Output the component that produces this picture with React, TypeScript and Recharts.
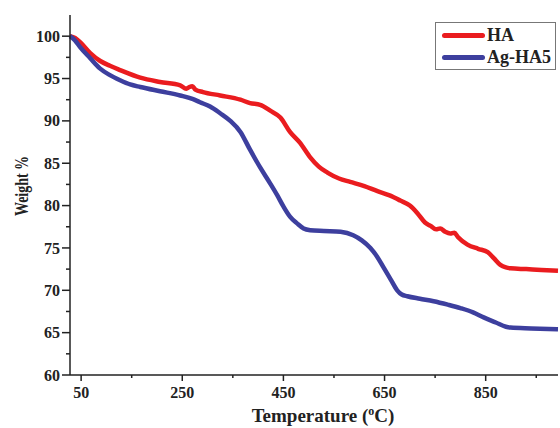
import React from "react";
import { LineChart, Line, XAxis, YAxis } from "recharts";

// TGA curves, temperature in °C, weight in %
const haTemp = [
    28, 38, 48, 68, 87, 107, 127, 167, 206, 246, 258, 264, 270, 276, 291, 325,
    365, 384, 404, 424, 444, 463, 483, 503, 520, 537, 560, 582, 610, 636, 660,
    681, 700, 715, 730, 741, 752, 760, 770, 780, 788, 795, 814, 835, 854, 866,
    879, 890, 899, 930, 960, 993,
];
const haWeight = [
    100, 99.8, 99.3, 98.0, 97.1, 96.5, 96.0, 95.1, 94.6, 94.2, 93.8, 94.0, 94.1,
    93.7, 93.4, 93.0, 92.5, 92.1, 91.9, 91.2, 90.4, 88.7, 87.4, 85.7, 84.6, 83.9,
    83.2, 82.8, 82.3, 81.7, 81.2, 80.6, 80.0, 79.1, 78.0, 77.6, 77.2, 77.3, 76.9,
    76.7, 76.8, 76.3, 75.4, 74.9, 74.5, 73.8, 73.0, 72.7, 72.6, 72.5, 72.4, 72.3,
];

const agTemp = [
    28, 38, 48, 68, 87, 107, 127, 147, 167, 206, 246, 270, 285, 305, 325, 345,
    365, 384, 404, 424, 438, 450, 463, 477, 490, 503, 530, 563, 588, 605, 622,
    635, 648, 662, 675, 684, 695, 720, 747, 775, 800, 825, 846, 870, 890, 899,
    940, 993,
];
const agWeight = [
    100, 99.5, 98.7, 97.4, 96.2, 95.4, 94.8, 94.3, 94.0, 93.5, 93.0, 92.6, 92.2,
    91.7, 90.9, 90.0, 88.7, 86.6, 84.5, 82.6, 81.2, 79.9, 78.7, 77.9, 77.3, 77.1,
    77.0, 76.9, 76.5, 75.9, 75.0, 74.0, 72.7, 71.3, 70.0, 69.5, 69.3, 69.0, 68.7,
    68.3, 67.9, 67.4, 66.8, 66.2, 65.7, 65.6, 65.5, 65.4,
];

const xTicks = [50, 150, 250, 350, 450, 550, 650, 750, 850, 950];
const xLabels = [50, 250, 450, 650, 850];
const yTicks = [
    60, 62.5, 65, 67.5, 70, 72.5, 75, 77.5, 80, 82.5, 85, 87.5, 90, 92.5, 95,
    97.5, 100,
];

const haData = haTemp.map((t, i) => ({ t, w: haWeight[i] }));
const agData = agTemp.map((t, i) => ({ t, w: agWeight[i] }));

const FONT = '"Liberation Serif", "Times New Roman", serif';
const AXIS = "#222";
const RED = "#ea1c1f";
const BLUE = "#3d3f9e";

const series = [
    { name: "HA", color: RED, data: haData },
    { name: "Ag-HA5", color: BLUE, data: agData },
];

function XTick({ x, y, payload }: any) {
    const major = xLabels.includes(payload.value);
    return (
        <g>
            <line x1={x} x2={x} y1={y} y2={y + (major ? 6 : 3)} stroke={AXIS} strokeWidth={1.5} />
            {major && (
                <text
                    x={x}
                    y={y + 23}
                    textAnchor="middle"
                    fontFamily={FONT}
                    fontWeight="bold"
                    fontSize={16}
                    fill="#222"
                >
                    {payload.value}
                </text>
            )}
        </g>
    );
}

function YTick({ x, y, payload }: any) {
    const major = payload.value % 5 === 0;
    return (
        <g>
            <line x1={x} x2={x - (major ? 8 : 4)} y1={y} y2={y} stroke={AXIS} strokeWidth={1.5} />
            {major && (
                <text
                    x={x - 10}
                    y={y}
                    dy="0.35em"
                    textAnchor="end"
                    fontFamily={FONT}
                    fontWeight="bold"
                    fontSize={16}
                    fill="#222"
                >
                    {payload.value}
                </text>
            )}
        </g>
    );
}

export default function App() {
    return (
        <div style={{ position: "fixed", left: 0, top: 0, width: 560, height: 428, background: "#fff" }}>
            <LineChart
                width={560}
                height={428}
                margin={{ top: 15, right: 2, bottom: 23, left: 20 }}
            >
                <XAxis
                    dataKey="t"
                    type="number"
                    domain={[28, 993]}
                    ticks={xTicks}
                    interval={0}
                    tickSize={0}
                    tickMargin={0}
                    height={30}
                    tick={<XTick />}
                    axisLine={{ stroke: AXIS, strokeWidth: 1.5 }}
                    allowDuplicatedCategory={false}
                />
                <XAxis
                    xAxisId="top"
                    orientation="top"
                    dataKey="t"
                    type="number"
                    domain={[28, 993]}
                    height={0}
                    tick={false}
                    tickLine={false}
                    axisLine={{ stroke: AXIS, strokeWidth: 1.5 }}
                />
                <YAxis
                    type="number"
                    domain={[60, 102.5]}
                    ticks={yTicks}
                    interval={0}
                    width={50}
                    tickSize={0}
                    tickMargin={0}
                    tick={<YTick />}
                    axisLine={{ stroke: AXIS, strokeWidth: 1.5 }}
                />
                <YAxis
                    yAxisId="right"
                    orientation="right"
                    domain={[60, 102.5]}
                    width={0}
                    tick={false}
                    tickLine={false}
                    axisLine={{ stroke: "#ccc", strokeWidth: 1 }}
                />
                {series.map((s) => (
                    <Line
                        key={s.name}
                        data={s.data}
                        dataKey="w"
                        name={s.name}
                        type="monotone"
                        stroke={s.color}
                        strokeWidth={4.5}
                        dot={false}
                        isAnimationActive={false}
                    />
                ))}
                <text
                    x={323}
                    y={422}
                    textAnchor="middle"
                    fontFamily={FONT}
                    fontWeight="bold"
                    fontSize={19}
                    fill="#222"
                >
                    Temperature (
                    <tspan fontSize={12} dy={-7}>o</tspan>
                    <tspan dy={7}>C)</tspan>
                </text>
                <text
                    x={22}
                    y={186}
                    transform="rotate(-90 22 186)"
                    textAnchor="middle"
                    dominantBaseline="central"
                    fontFamily={FONT}
                    fontWeight="bold"
                    fontSize={18}
                    textLength={60}
                    lengthAdjust="spacingAndGlyphs"
                    fill="#222"
                >
                    Weight %
                </text>
            </LineChart>
            <div
                style={{
                    position: "absolute",
                    left: 435,
                    top: 22,
                    width: 121,
                    boxSizing: "border-box",
                    border: "1px solid #777",
                    background: "#fff",
                    padding: "1px 0 1px 6px",
                    fontFamily: FONT,
                    fontWeight: "bold",
                    fontSize: 18,
                    color: "#222",
                }}
            >
                {series.map((s) => (
                    <div key={s.name} style={{ display: "flex", alignItems: "center", height: 22 }}>
                        <span
                            style={{
                                display: "inline-block",
                                width: 43,
                                height: 5,
                                borderRadius: 3,
                                background: s.color,
                                marginRight: 2,
                            }}
                        />
                        {s.name}
                    </div>
                ))}
            </div>
        </div>
    );
}
